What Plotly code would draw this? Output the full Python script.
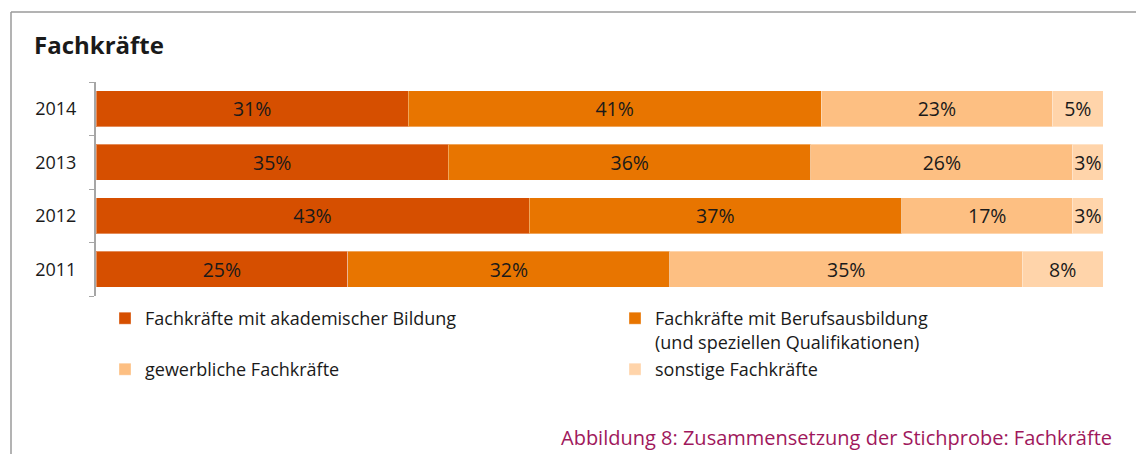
import plotly.graph_objects as go

years = ["2011", "2012", "2013", "2014"]
series_names = [
    "Fachkräfte mit akademischer Bildung",
    "Fachkräfte mit Berufsausbildung<br>(und speziellen Qualifikationen)",
    "gewerbliche Fachkräfte",
    "sonstige Fachkräfte",
]
akademisch = [25, 43, 35, 31]
beruf = [32, 37, 36, 41]
gewerblich = [35, 17, 26, 23]
sonstige = [8, 3, 3, 5]
colors = ["#D64F00", "#E87500", "#FDBF82", "#FFD4AA"]
legend_ids = ["legend", "legend2", "legend", "legend2"]

# page body has an 8px default margin; work in page pixels and convert
OFF = 8
W, H = 1144 - OFF, 454 - OFF
ml, mr, mt, mb = 96 - OFF, 41, 82 - OFF, 158
pw, ph = W - ml - mr, H - mt - mb

def px(x):
    return (x - OFF - ml) / pw

def py(y):
    return (H - mb - (y - OFF)) / ph

fig = go.Figure()
for i, (name, vals, col) in enumerate(zip(series_names, [akademisch, beruf, gewerblich, sonstige], colors)):
    fig.add_trace(go.Bar(
        y=years, x=vals, name=name, orientation="h",
        legend=legend_ids[i], legendgroup=f"g{i}",
        marker=dict(color=col, line=dict(color="rgba(255,255,255,0.35)", width=1)),
        text=[f"{v}%" for v in vals], textposition="inside",
        insidetextanchor="middle", constraintext="none", textangle=0,
        textfont=dict(color="#1a1a1a", size=19.5, family="Open Sans"),
        hoverinfo="skip",
    ))

legend_common = dict(
    orientation="v", xanchor="left", yanchor="top", valign="top",
    font=dict(size=18, color="#1a1a1a"), traceorder="grouped",
    itemclick=False, itemdoubleclick=False, bgcolor="rgba(0,0,0,0)",
)

fig.update_layout(
    barmode="stack", bargap=0.32,
    width=W, height=H,
    margin=dict(l=ml, r=mr, t=mt, b=mb, pad=0),
    paper_bgcolor="white", plot_bgcolor="white",
    font=dict(family="Open Sans", color="#1a1a1a"),
    xaxis=dict(range=[0, 100], visible=False, fixedrange=True),
    yaxis=dict(
        type="category", showline=True, linecolor="#A6A6A6", linewidth=2,
        ticks="outside", tickson="boundaries", ticklen=5, tickcolor="#A6A6A6",
        tickwidth=1, tickfont=dict(size=18, color="#1a1a1a"), ticklabelstandoff=14,
        showgrid=False, zeroline=False, fixedrange=True,
    ),
    showlegend=True,
    legend=dict(x=px(105), y=py(300), tracegroupgap=24.6, **legend_common),
    legend2=dict(x=px(615), y=py(300), tracegroupgap=1.2, **legend_common),
    annotations=[
        dict(text="<b>Fachkräfte</b>", x=px(32), y=py(45), xref="paper", yref="paper",
             xanchor="left", yanchor="middle", showarrow=False,
             font=dict(size=24, color="#1a1a1a")),
        dict(text="Abbildung 8: Zusammensetzung der Stichprobe: Fachkräfte",
             x=px(1114), y=py(437), xref="paper", yref="paper",
             xanchor="right", yanchor="middle", showarrow=False,
             font=dict(size=20, color="#A0185C")),
    ],
    shapes=[
        dict(type="line", xref="paper", yref="paper", x0=px(11), x1=px(1137),
             y0=py(12), y1=py(12), line=dict(color="#9A9A9A", width=1.5)),
        dict(type="line", xref="paper", yref="paper", x0=px(11), x1=px(11),
             y0=py(12), y1=py(470), line=dict(color="#9A9A9A", width=1.5)),
        dict(type="line", xref="paper", yref="paper", x0=px(1137), x1=px(1137),
             y0=py(12), y1=py(470), line=dict(color="#9A9A9A", width=2)),
        dict(type="rect", xref="paper", yref="paper", x0=px(1138.5), x1=px(1142),
             y0=py(14), y1=py(470), line=dict(width=0), fillcolor="rgba(0,0,0,0.08)"),
    ],
)

fig.write_html("out.html")
